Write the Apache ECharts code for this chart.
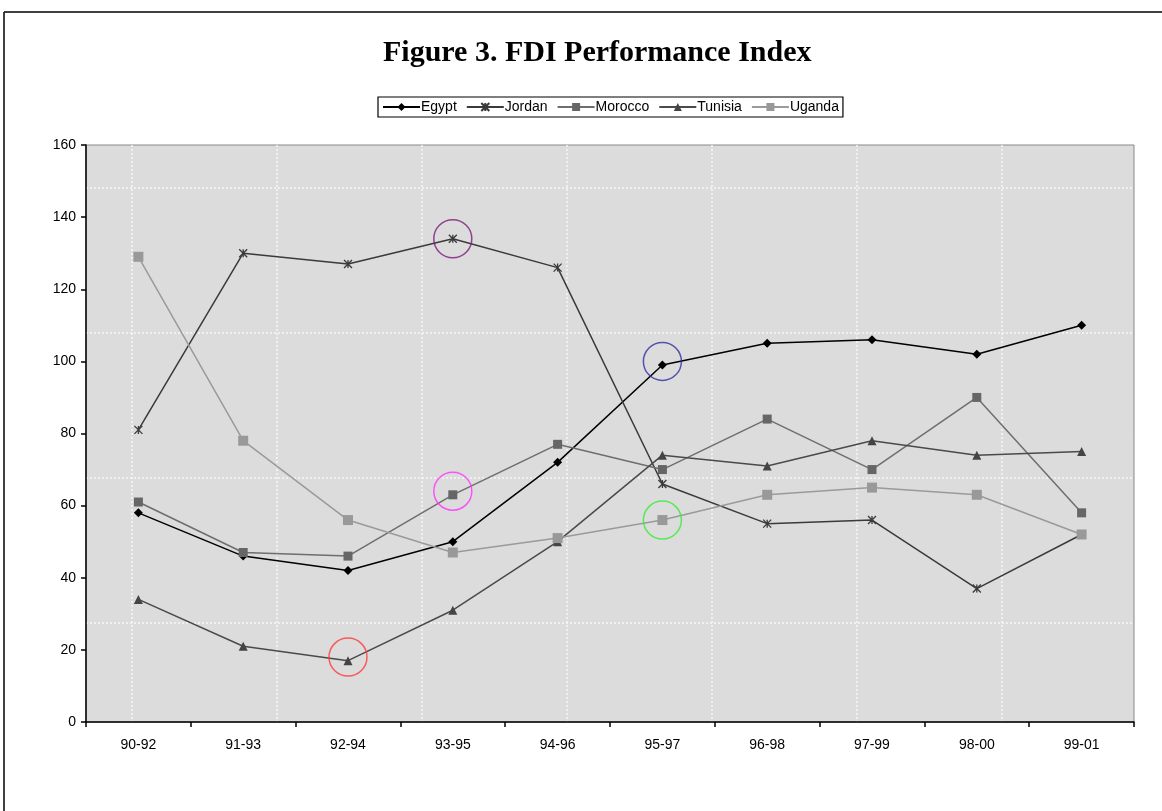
<!DOCTYPE html>
<html>
<head>
<meta charset="utf-8">
<script src="https://cdn.jsdelivr.net/npm/echarts@6/dist/echarts.min.js"></script>
<style>
html,body{margin:0;padding:0;background:#fff;}
#chart{width:1162px;height:811px;}
</style>
</head>
<body>
<div id="chart"></div>
<script>
var categories = ['90-92','91-93','92-94','93-95','94-96','95-97','96-98','97-99','98-00','99-01'];
var egypt   = [58, 46, 42, 50, 72, 99, 105, 106, 102, 110];
var jordan  = [81, 130, 127, 134, 126, 66, 55, 56, 37, 52];
var morocco = [61, 47, 46, 63, 77, 70, 84, 70, 90, 58];
var tunisia = [34, 21, 17, 31, 50, 74, 71, 78, 74, 75];
var uganda  = [129, 78, 56, 47, 51, 56, 63, 65, 63, 52];
var yTicks = [0, 20, 40, 60, 80, 100, 120, 140, 160];
// highlighted points: [category index, value]
var circleRed     = [[2, 18]];
var circleMagenta = [[3, 64]];
var circlePurple  = [[3, 134]];
var circleNavy    = [[5, 100]];
var circleGreen   = [[5, 56]];

var chart = echarts.init(document.getElementById('chart'));
var asterisk = 'path://M0,0L10,10M10,0L0,10M5,0L5,10';
function lineSeries(name, data, color, symbol, size, symColor) {
  return {
    name: name, type: 'line', data: data, xAxisIndex: 0, yAxisIndex: 0,
    symbol: symbol, symbolSize: size, showAllSymbol: true,
    lineStyle: {color: color, width: 1.5},
    itemStyle: {color: symColor || color, borderColor: symColor || color, borderWidth: symbol === asterisk ? 1.3 : 0},
    emphasis: {disabled: true}, z: 3
  };
}
function circle(data, color) {
  return {
    type: 'scatter', data: data, xAxisIndex: 0, yAxisIndex: 0,
    symbol: 'circle', symbolSize: 38,
    itemStyle: {color: 'rgba(0,0,0,0)', borderColor: color, borderWidth: 1.5},
    emphasis: {disabled: true}, z: 5, silent: true
  };
}
var axisFont = {fontFamily: 'Liberation Sans', fontSize: 14, color: '#000'};
var patternLine = {show: true, showMinLine: false, showMaxLine: false, lineStyle: {color: '#f6f6f6', type: [2, 2], width: 1.5}};
var hidden = {axisLine: {show: false}, axisTick: {show: false}, axisLabel: {show: false}};
chart.setOption({
  animation: false,
  backgroundColor: '#fff',
  title: {
    text: 'Figure 3. FDI Performance Index',
    left: 378, top: 33,
    textStyle: {fontFamily: 'Liberation Serif', fontWeight: 'bold', fontSize: 30, color: '#000'}
  },
  legend: {
    data: ['Egypt', 'Jordan', 'Morocco', 'Tunisia', 'Uganda'],
    left: 378, top: 97, padding: [3, 4, 3, 4],
    borderColor: '#000', borderWidth: 1.2,
    itemWidth: 37, itemHeight: 10, itemGap: 9,
    textStyle: {fontFamily: 'Liberation Sans', fontSize: 14, color: '#000', padding: [0, 0, 0, -4]}
  },
  grid: [
    {left: 86, right: 28, top: 145, bottom: 89, z: -1,
     show: true, backgroundColor: '#dcdcdc', borderColor: '#888', borderWidth: 1},
    {left: 86, right: 15, top: 145, bottom: 89, show: false},
    {left: 86, right: 28, top: 145, bottom: 43, show: false}
  ],
  xAxis: [{
    gridIndex: 0, type: 'category', data: categories, boundaryGap: true,
    axisLine: {onZero: false, lineStyle: {color: '#000', width: 1.5}},
    axisTick: {show: true, length: 5, lineStyle: {color: '#000', width: 1.5}},
    axisLabel: Object.assign({margin: 16}, axisFont),
    splitLine: {show: false}
  }, Object.assign({
    gridIndex: 1, type: 'value', inverse: true, min: 0, max: 1061, interval: 145,
    splitLine: patternLine
  }, hidden), Object.assign({
    gridIndex: 2, type: 'value', min: 0, max: 10, splitLine: {show: false}
  }, hidden)],
  yAxis: [{
    gridIndex: 0, type: 'value', min: 0, max: 160, interval: 20,
    axisLine: {show: true, onZero: false, lineStyle: {color: '#000', width: 1.5}},
    axisTick: {show: true, length: 5, lineStyle: {color: '#000', width: 1.5}},
    axisLabel: Object.assign({margin: 10, formatter: function (v) { return yTicks.indexOf(v) >= 0 ? String(v) : ''; }}, axisFont),
    splitLine: {show: false}
  }, Object.assign({
    gridIndex: 1, type: 'value', min: 0, max: 10, splitLine: {show: false}
  }, hidden), Object.assign({
    gridIndex: 2, type: 'value', min: 0, max: 623, interval: 145,
    splitLine: patternLine
  }, hidden)],
  graphic: [
    {type: 'line', shape: {x1: 4, y1: 12, x2: 1162, y2: 12}, style: {stroke: '#000', lineWidth: 1.5}, silent: true},
    {type: 'line', shape: {x1: 4, y1: 12, x2: 4, y2: 811}, style: {stroke: '#000', lineWidth: 1.5}, silent: true}
  ],
  series: [
    lineSeries('Egypt', egypt, '#000000', 'diamond', 9),
    lineSeries('Jordan', jordan, '#3a3a3a', asterisk, 8),
    lineSeries('Morocco', morocco, '#6e6e6e', 'rect', 9, '#666666'),
    lineSeries('Tunisia', tunisia, '#4a4a4a', 'triangle', 9, '#444444'),
    lineSeries('Uganda', uganda, '#9a9a9a', 'rect', 10, '#999999'),
    circle(circleRed, '#ff3b3b'),
    circle(circleMagenta, '#ff33ff'),
    circle(circlePurple, '#7a1a7a'),
    circle(circleNavy, '#3030a0'),
    circle(circleGreen, '#33ee33')
  ]
});
</script>
</body>
</html>
